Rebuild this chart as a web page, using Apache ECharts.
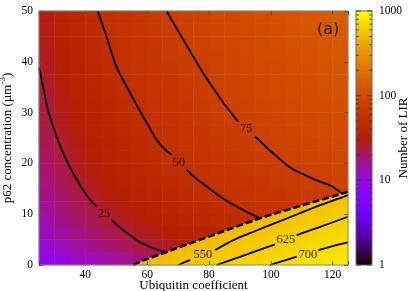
<!DOCTYPE html>
<html><head><meta charset="utf-8">
<script src="https://cdn.jsdelivr.net/npm/echarts@6/dist/echarts.min.js"></script>
<style>html,body{margin:0;padding:0;background:#fff}#c{width:415px;height:291px}</style>
</head><body><div id="c"></div>
<script>
// heat-map cell centres
const xCenters = [27.5,32.5,37.5,42.5,47.5,52.5,57.5,62.5,67.5,72.5,77.5,82.5,87.5,92.5,97.5,102.5,107.5,112.5,117.5,122.5];
const yCenters = [1.25,3.75,6.25,8.75,11.25,13.75,16.25,18.75,21.25,23.75,26.25,28.75,31.25,33.75,36.25,38.75,41.25,43.75,46.25,48.75];
// Number of LIR, one row per yCenter (bottom to top)
const row00 = [8.6,10.2,11.8,13.3,14.9,16.5,18.0,19.6,21,540,565,592,620,643,663,684,705,725,745,765];
const row01 = [10.9,12.8,14.8,16.8,18.8,21,23,25,27,29,31,540,565,589,613,634,652,670,689,707];
const row02 = [12.7,15.0,17.3,19.6,22,24,27,29,31,34,36,38,40,545,568,591,614,632,646,661];
const row03 = [14.3,16.9,19.5,22,25,27,30,33,35,38,40,43,46,48,51,53,566,587,608,629];
const row04 = [15.8,18.6,22,24,27,30,33,36,39,42,44,47,50,53,56,59,62,65,563,583];
const row05 = [17.1,20,23,26,30,33,36,39,42,45,48,51,54,58,61,64,67,70,73,76];
const row06 = [18.3,22,25,28,32,35,38,42,45,48,52,55,58,62,65,68,72,75,78,82];
const row07 = [19.5,23,27,30,34,37,41,44,48,51,55,58,62,66,69,73,76,80,83,87];
const row08 = [21,24,28,32,36,39,43,47,51,54,58,62,65,69,73,77,80,84,88,92];
const row09 = [22,26,29,33,37,41,45,49,53,57,61,65,69,73,77,81,85,88,92,96];
const row10 = [23,27,31,35,39,43,47,51,55,60,64,68,72,76,80,84,88,92,97,101];
const row11 = [24,28,32,36,41,45,49,54,58,62,66,71,75,79,84,88,92,96,101,105];
const row12 = [24,29,33,38,42,47,51,56,60,64,69,73,78,82,87,91,96,100,105,109];
const row13 = [25,30,35,39,44,48,53,58,62,67,71,76,81,85,90,94,99,104,108,113];
const row14 = [26,31,36,40,45,50,55,60,64,69,74,79,83,88,93,98,102,107,112,117];
const row15 = [27,32,37,42,47,52,56,61,66,71,76,81,86,91,96,101,106,110,115,120];
const row16 = [28,33,38,43,48,53,58,63,68,73,78,83,88,94,99,104,109,114,119,124];
const row17 = [29,34,39,44,49,55,60,65,70,75,81,86,91,96,101,107,112,117,122,127];
const row18 = [29,35,40,45,51,56,61,67,72,77,83,88,93,99,104,109,115,120,125,131];
const row19 = [30,36,41,46,52,57,63,68,74,79,85,90,96,101,107,112,118,123,128,134];
const rows = [row00,row01,row02,row03,row04,row05,row06,row07,row08,row09,row10,row11,row12,row13,row14,row15,row16,row17,row18,row19];

// dashed boundary of the high (yellow) region
const boundary = [[55.5,0],[57.7,0.66],[60,1.2],[63.6,1.97],[66.3,2.55],[70,3.4],[75,4.5],[80,5.6],[85,6.7],[90,7.8],[96.5,9.2],[100,9.9],[105,10.8],[110,11.7],[115,12.6],[120,13.5],[125,14.4]];

// contour lines (each split where its label sits)
const c25a = [[25,38.8],[26.5,34.6],[27.9,30.5],[29.5,27.4],[31.1,24.6],[33.5,21.1],[36,18.1],[38.5,15.5],[40.8,13.4],[43.6,11.5]];
const c25b = [[48.5,8.9],[52,7.0],[55.3,5.5],[57.6,4.5],[60.9,3.6],[63.5,3.0],[66.3,2.5]];
const c50a = [[44,50],[47,44.7],[50.1,39],[54,34.4],[57.7,30.3],[60.5,27.3],[63.1,24.6],[65.5,22.9],[67.9,21.7]];
const c50b = [[72.8,18.7],[75.5,17.2],[78.7,15.7],[84.6,13.1],[90.5,11.0],[96.5,9.2]];
const c75a = [[66.3,50],[70,46.1],[73.7,42.3],[78,37.9],[82.4,33.9],[85.8,31],[89.5,28.2]];
const c75b = [[94.9,25.3],[100,22.4],[106,19.3],[110,18.0],[114.7,16.7],[119.7,15.5],[123,14.1]];
const c550a = [[70.1,0],[73.9,1.0]];
const c550b = [[82,2.95],[87.9,4.9],[95,6.7],[102,8.4],[109.5,10.2],[116,11.8],[123.5,13.4],[125,13.8]];
const c625a = [[82.5,0],[90,1.6],[101.4,4.07]];
const c625b = [[108.4,5.9],[116,7.5],[125,9.5]];
const c700a = [[99.7,0],[104,0.8],[108.4,1.64]];
const c700b = [[115.4,2.95],[120,3.7],[125,4.47]];
const contourLabels = [
  {name:'25', value:[46,10.1]}, {name:'50', value:[70.2,20.1]}, {name:'75', value:[92.1,26.9]},
  {name:'550', value:[78,2.0]}, {name:'625', value:[104.9,4.9]}, {name:'700', value:[112,2.1]}
];

// colour-bar ticks (log scale)
const cbMajor = [1,10,100,1000];
const cbMinor = [2,3,4,5,6,7,8,9,20,30,40,50,60,70,80,90,200,300,400,500,600,700,800,900];

// gnuplot default palette (rgbformulae 7,5,15)
const palette = [];
for (let i = 0; i <= 48; i++) {
  const t = i / 48;
  const r = Math.round(255 * Math.sqrt(t));
  const g = Math.round(255 * t * t * t);
  const b = Math.round(255 * Math.max(0, Math.sin(2 * Math.PI * t)));
  palette.push('rgb(' + r + ',' + g + ',' + b + ')');
}

const heatData = [];
rows.forEach((row, j) => row.forEach((v, i) => heatData.push([i, j, Math.log10(v)])));

const serif = 'Liberation Serif';
const tickCol = '#555';

const cbTickData = [];
cbMajor.forEach(v => {
  cbTickData.push({value:[0, Math.log10(v)], symbolSize:[5,1], symbolOffset:[2.5,0]});
  cbTickData.push({value:[1, Math.log10(v)], symbolSize:[5,1], symbolOffset:[-2.5,0]});
});
cbMinor.forEach(v => {
  cbTickData.push({value:[0, Math.log10(v)], symbolSize:[3,1], symbolOffset:[1.5,0]});
  cbTickData.push({value:[1, Math.log10(v)], symbolSize:[3,1], symbolOffset:[-1.5,0]});
});

function contour(data) {
  return {type:'line', xAxisIndex:0, yAxisIndex:0, data:data, symbol:'none', smooth:0.3,
    lineStyle:{color:'#000', width:1.8}, z:5, silent:true, animation:false};
}

const chart = echarts.init(document.getElementById('c'), null, {renderer:'canvas'});
chart.setOption({
  animation:false,
  backgroundColor:'#fff',
  grid:[
    {left:39, top:11, width:309, height:254, show:true, borderColor:'#888', borderWidth:1, backgroundColor:'transparent', z:10, containLabel:false, outerBoundsMode:'none'},
    {left:356, top:11, width:16, height:254, show:true, borderColor:'#666', borderWidth:1, backgroundColor:'transparent', z:10, containLabel:false, outerBoundsMode:'none'}
  ],
  xAxis:[
    {type:'value', gridIndex:0, min:25, max:125, position:'bottom', z:10,
      axisLine:{show:false}, splitLine:{show:false},
      axisTick:{show:true, inside:true, length:4, lineStyle:{color:tickCol}},
      axisLabel:{color:'#000', fontFamily:serif, fontSize:11.5, margin:4,
        formatter: v => (v % 20 === 0 ? String(v) : '')},
      name:'Ubiquitin coefficient', nameLocation:'middle', nameGap:14, nameMoveOverlap:false,
      nameTextStyle:{color:'#000', fontFamily:serif, fontSize:13}},
    {type:'category', gridIndex:0, data:xCenters, show:false},
    {type:'value', gridIndex:0, min:25, max:125, position:'top', z:10,
      axisLine:{show:false}, splitLine:{show:false}, axisLabel:{show:false},
      axisTick:{show:true, inside:true, length:4, lineStyle:{color:tickCol}}},
    {type:'value', gridIndex:1, min:0, max:1, show:false}
  ],
  yAxis:[
    {type:'value', gridIndex:0, min:0, max:50, interval:10, position:'left', z:10,
      axisLine:{show:false}, splitLine:{show:false},
      axisTick:{show:true, inside:true, length:4, lineStyle:{color:tickCol}},
      axisLabel:{color:'#000', fontFamily:serif, fontSize:11.5, margin:6},
      name:'{a|p62 concentration (µm}{s|-3}{a|)}', nameLocation:'middle', nameGap:25, nameMoveOverlap:false,
      nameTextStyle:{color:'#000', fontFamily:serif, fontSize:13,
        rich:{a:{fontFamily:serif, fontSize:13, color:'#000', lineHeight:16, verticalAlign:'bottom'},
              s:{fontFamily:serif, fontSize:9, color:'#000', lineHeight:9, verticalAlign:'top'}}}},
    {type:'category', gridIndex:0, data:yCenters, show:false},
    {type:'value', gridIndex:0, min:0, max:50, interval:10, position:'right', z:10,
      axisLine:{show:false}, splitLine:{show:false}, axisLabel:{show:false},
      axisTick:{show:true, inside:true, length:4, lineStyle:{color:tickCol}}},
    {type:'value', gridIndex:1, min:0, max:3, interval:1, position:'right', z:10,
      axisLine:{show:false}, splitLine:{show:false}, axisTick:{show:false},
      axisLabel:{color:'#000', fontFamily:serif, fontSize:11.5, margin:7,
        formatter: v => String(cbMajor[Math.round(v)])},
      name:'Number of LIR', nameLocation:'middle', nameGap:25, nameMoveOverlap:false,
      nameTextStyle:{color:'#000', fontFamily:serif, fontSize:13}}
  ],
  visualMap:{type:'continuous', min:0, max:3, dimension:2, seriesIndex:0,
    show:true, calculable:false, hoverLink:false, orient:'vertical',
    left:356, top:11, itemWidth:16, itemHeight:254, padding:0,
    inRange:{color:palette}},
  graphic:[{type:'text', left:317, top:22, z:100,
    style:{text:'(a)', font:'16px "DejaVu Sans"', fill:'#222'}}],
  series:[
    {type:'heatmap', xAxisIndex:1, yAxisIndex:1, data:heatData, silent:true, progressive:0,
      itemStyle:{borderWidth:0}, emphasis:{disabled:true}},
    {type:'line', xAxisIndex:0, yAxisIndex:0, data:boundary, symbol:'none', z:4, silent:true,
      lineStyle:{color:'#000', width:2.6, type:[7,3]},
      areaStyle:{opacity:1, origin:'start',
        color:new echarts.graphic.LinearGradient(0.59, 0.358, 0.722, 1.328, [
          {offset:0, color:'rgb(242,187,0)'},
          {offset:0.14, color:'rgb(244,194,0)'},
          {offset:0.375, color:'rgb(246,206,0)'},
          {offset:0.612, color:'rgb(248,217,0)'},
          {offset:1, color:'rgb(251,234,0)'}])}},
    contour(c25a), contour(c25b), contour(c50a), contour(c50b), contour(c75a), contour(c75b),
    contour(c550a), contour(c550b), contour(c625a), contour(c625b), contour(c700a), contour(c700b),
    {type:'scatter', xAxisIndex:0, yAxisIndex:0, data:contourLabels, symbolSize:1, z:6, silent:true,
      itemStyle:{color:'transparent'},
      label:{show:true, position:'inside', formatter:'{b}', color:'#000', fontFamily:serif, fontSize:12.5}},
    {type:'scatter', xAxisIndex:3, yAxisIndex:3, data:cbTickData, symbol:'rect', z:20, silent:true,
      itemStyle:{color:'#333'}}
  ]
});
</script>
</body></html>
